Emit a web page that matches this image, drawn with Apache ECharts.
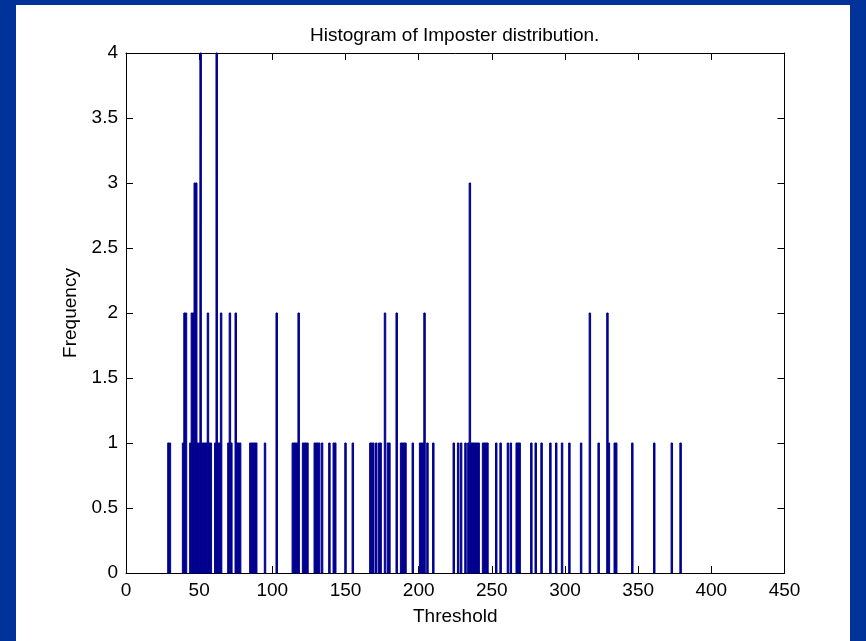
<!DOCTYPE html>
<html>
<head>
<meta charset="utf-8">
<script src="https://cdn.jsdelivr.net/npm/echarts@6/dist/echarts.min.js"></script>
<style>
html,body{margin:0;padding:0;background:#003399;}
#frame{position:absolute;left:16px;top:5px;width:834px;height:636px;background:#ffffff;}
#chart{position:absolute;left:0;top:0;width:866px;height:641px;}
</style>
</head>
<body>
<div id="frame"></div>
<div id="chart"></div>
<script>
// Histogram bins (threshold value) and their frequencies
const thresholds = [29,30,39,40,41,44,45,46,47,48,49,50,51,52,53,54,55,56,57,58,
  61,62,63,64,65,70,71,72,75,76,77,78,85,86,87,88,89,95,103,
  114,115,116,117,118,121,122,123,124,129,130,131,132,134,139,142,143,150,155,
  167,168,169,171,173,174,177,179,180,185,188,189,190,191,196,201,202,203,204,206,210,
  224,227,229,232,234,235,236,237,238,239,240,241,244,245,246,247,
  253,256,261,263,267,268,269,277,280,284,290,294,298,303,311,317,323,329,330,334,335,
  346,361,373,379];
const frequencies = [1,1,1,2,2,1,2,2,3,3,1,1,4,1,1,1,1,2,1,1,
  1,4,1,1,2,1,2,1,2,1,1,1,1,1,1,1,1,1,2,
  1,1,1,1,2,1,1,1,1,1,1,1,1,1,1,1,1,1,1,
  1,1,1,1,1,1,2,1,1,2,1,1,1,1,1,1,1,1,2,1,1,
  1,1,1,1,1,3,1,1,1,1,1,1,1,1,1,1,
  1,1,1,1,1,1,1,1,1,1,1,1,1,1,1,2,1,2,1,1,1,
  1,1,1,1];
const xTicks = [0,50,100,150,200,250,300,350,400,450];
const yTicks = [0,0.5,1,1.5,2,2.5,3,3.5,4];

const data = thresholds.map((t,i)=>[t,frequencies[i]]);
const barColor = '#00008F';
const font = 'Liberation Sans, Arial, sans-serif';

const chart = echarts.init(document.getElementById('chart'), null, {renderer:'canvas'});
function baseAxis(){
  return {
    axisLine:{show:true,onZero:false,lineStyle:{color:'#000',width:1}},
    axisTick:{show:true,inside:true,length:7,lineStyle:{color:'#000'}},
    splitLine:{show:false}
  };
}
chart.setOption({
  backgroundColor:'transparent',
  animation:false,
  title:{
    text:'Histogram of Imposter distribution.',
    left:305, top:21,
    textStyle:{fontFamily:font,fontSize:19,fontWeight:'normal',color:'#000'}
  },
  grid:{left:126,top:53,width:658.5,height:520,containLabel:false},
  xAxis:[
    Object.assign(baseAxis(),{
      type:'value',min:xTicks[0],max:xTicks[xTicks.length-1],interval:50,position:'bottom',
      name:'Threshold',nameLocation:'middle',nameGap:34,
      nameTextStyle:{fontFamily:font,fontSize:19,color:'#000'},
      axisLabel:{show:true,margin:8,fontFamily:font,fontSize:19,color:'#000'}
    }),
    Object.assign(baseAxis(),{
      type:'value',min:xTicks[0],max:xTicks[xTicks.length-1],interval:50,position:'top',
      axisLabel:{show:false}
    })
  ],
  yAxis:[
    Object.assign(baseAxis(),{
      type:'value',min:yTicks[0],max:yTicks[yTicks.length-1],interval:0.5,position:'left',
      name:'Frequency',nameLocation:'middle',nameGap:45,nameRotate:90,
      nameTextStyle:{fontFamily:font,fontSize:19,color:'#000'},
      axisLabel:{show:true,margin:8,fontFamily:font,fontSize:19,color:'#000'}
    }),
    Object.assign(baseAxis(),{
      type:'value',min:yTicks[0],max:yTicks[yTicks.length-1],interval:0.5,position:'right',
      axisLabel:{show:false}
    })
  ],
  series:[{
    type:'custom',
    xAxisIndex:0,yAxisIndex:0,
    data:data,
    encode:{x:0,y:1},
    renderItem:function(params,api){
      const x = api.value(0), c = api.value(1);
      const p0 = api.coord([x-0.5,0]);
      const p1 = api.coord([x+0.5,c]);
      return {type:'rect',
        shape:{x:p0[0],y:p1[1],width:p1[0]-p0[0],height:p0[1]-p1[1]},
        style:{fill:barColor,stroke:barColor,lineWidth:1}};
    }
  }]
});
</script>
</body>
</html>
